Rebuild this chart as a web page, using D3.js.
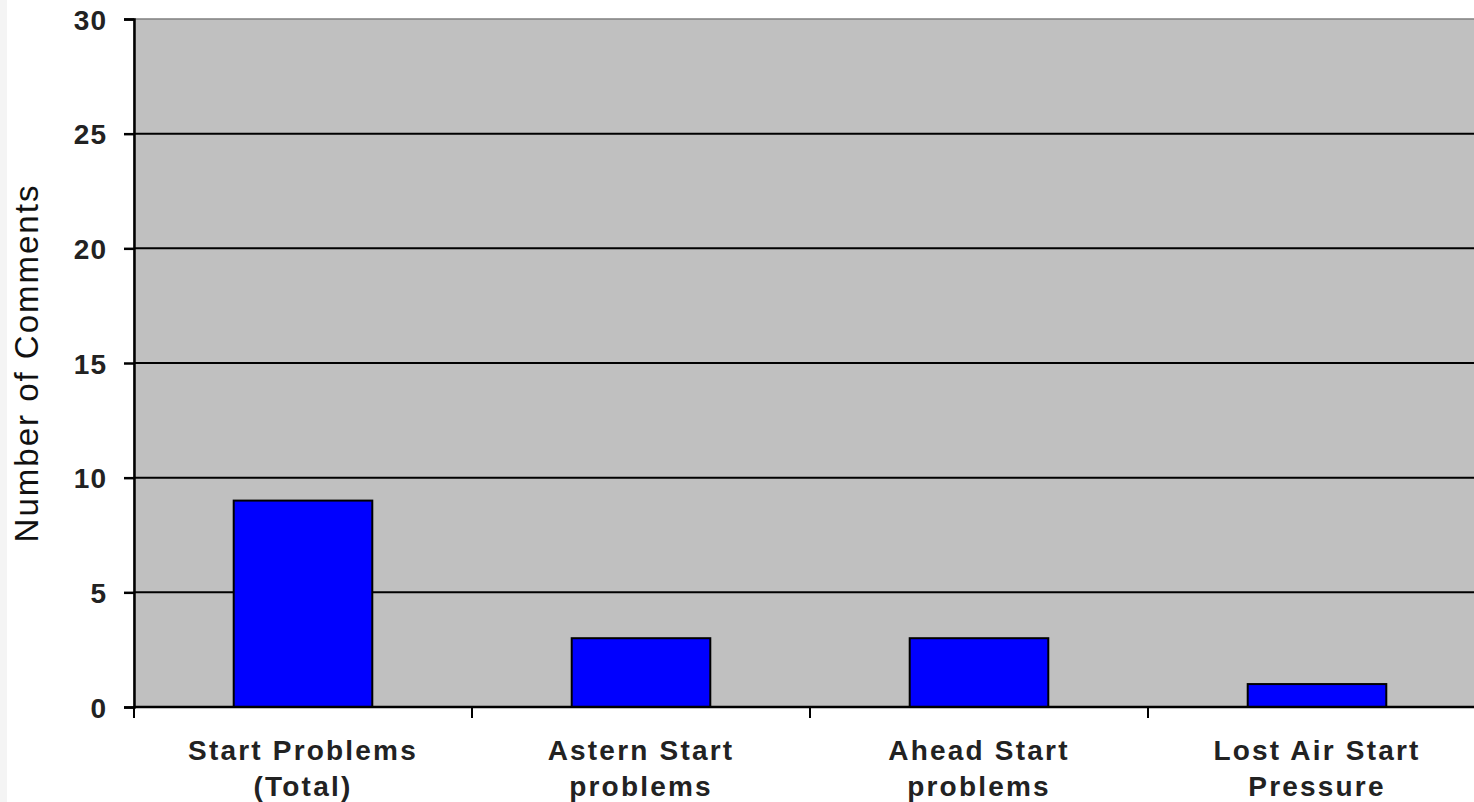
<!DOCTYPE html>
<html>
<head>
<meta charset="utf-8">
<script src="https://cdn.jsdelivr.net/npm/d3@7"></script>
<style>
  body { margin: 0; background: #fff; overflow: hidden; }
  svg { display: block; font-family: Arial, "Liberation Sans", sans-serif; }
</style>
</head>
<body>
<div id="chart"></div>
<script>
const width = 1474;
const height = 802;

// data
const categories = [
  ["Start Problems", "(Total)"],
  ["Astern Start", "problems"],
  ["Ahead Start", "problems"],
  ["Lost Air Start", "Pressure"]
];
const counts = [9, 3, 3, 1];
const yTicks = [0, 5, 10, 15, 20, 25, 30];

const plotLeft = 134;
const plotRight = 1486;
const plotTop = 19;
const plotBottom = 707;

const svg = d3.select("#chart").append("svg")
  .attr("width", width)
  .attr("height", height);

// faint strip at far left
svg.append("rect").attr("x", 0).attr("y", 0).attr("width", 7).attr("height", height).attr("fill", "#f4f4f4");

const x = d3.scaleBand()
  .domain(d3.range(categories.length))
  .range([plotLeft, plotRight])
  .paddingInner(0.59)
  .paddingOuter(0.295);

const y = d3.scaleLinear()
  .domain([0, 30])
  .range([plotBottom, plotTop]);

// plot background
svg.append("rect")
  .attr("x", plotLeft).attr("y", plotTop)
  .attr("width", plotRight - plotLeft).attr("height", plotBottom - plotTop)
  .attr("fill", "#c0c0c0")
  .attr("stroke", "#808080")
  .attr("stroke-width", 1.5);

// gridlines
svg.append("g")
  .selectAll("line")
  .data(yTicks.filter(d => d > 0 && d < 30))
  .enter()
  .append("line")
  .attr("x1", plotLeft).attr("x2", plotRight)
  .attr("y1", d => y(d)).attr("y2", d => y(d))
  .attr("stroke", "#000")
  .attr("stroke-width", 2);

// bars
svg.append("g")
  .selectAll("rect")
  .data(counts)
  .enter()
  .append("rect")
  .attr("x", (d, i) => x(i))
  .attr("width", x.bandwidth())
  .attr("y", d => y(d))
  .attr("height", d => y(0) - y(d))
  .attr("fill", "#0000ff")
  .attr("stroke", "#000")
  .attr("stroke-width", 2);

// y axis
const yAxis = svg.append("g")
  .attr("transform", `translate(${plotLeft},0)`)
  .call(d3.axisLeft(y).tickValues(yTicks).tickSize(10).tickPadding(17));
yAxis.select(".domain").attr("stroke", "#000").attr("stroke-width", 2.5);
yAxis.selectAll(".tick line").attr("stroke", "#000").attr("stroke-width", 2.5);
yAxis.selectAll(".tick text")
  .attr("fill", "#222")
  .attr("dy", "0.36em")
  .style("font-size", "28px")
  .style("font-weight", "bold")
  .style("letter-spacing", "1px");

// x axis
const bandStep = x.step();
const xTickPos = d3.range(categories.length).map(i => plotLeft + i * bandStep);
svg.append("line")
  .attr("x1", plotLeft).attr("x2", plotRight)
  .attr("y1", plotBottom).attr("y2", plotBottom)
  .attr("stroke", "#000").attr("stroke-width", 2.5);
svg.append("g")
  .selectAll("line")
  .data(xTickPos)
  .enter()
  .append("line")
  .attr("x1", d => d).attr("x2", d => d)
  .attr("y1", plotBottom).attr("y2", plotBottom + 11)
  .attr("stroke", "#000").attr("stroke-width", 2);

// category labels
const labels = svg.append("g")
  .selectAll("text")
  .data(categories)
  .enter()
  .append("text")
  .attr("text-anchor", "middle")
  .attr("fill", "#222")
  .style("font-size", "28px")
  .style("font-weight", "bold")
  .style("letter-spacing", "2.2px");
labels.each(function(d, i) {
  const t = d3.select(this);
  const cx = x(i) + x.bandwidth() / 2;
  d.forEach((line, j) => {
    t.append("tspan").attr("x", cx).attr("y", 760 + j * 36).text(line);
  });
});

// y axis title
svg.append("text")
  .attr("transform", `translate(38,${(plotTop + plotBottom) / 2 + 0})rotate(-90)`)
  .attr("text-anchor", "middle")
  .attr("fill", "#111")
  .style("font-size", "33px")
  .style("letter-spacing", "2px")
  .text("Number of Comments");
</script>
</body>
</html>
